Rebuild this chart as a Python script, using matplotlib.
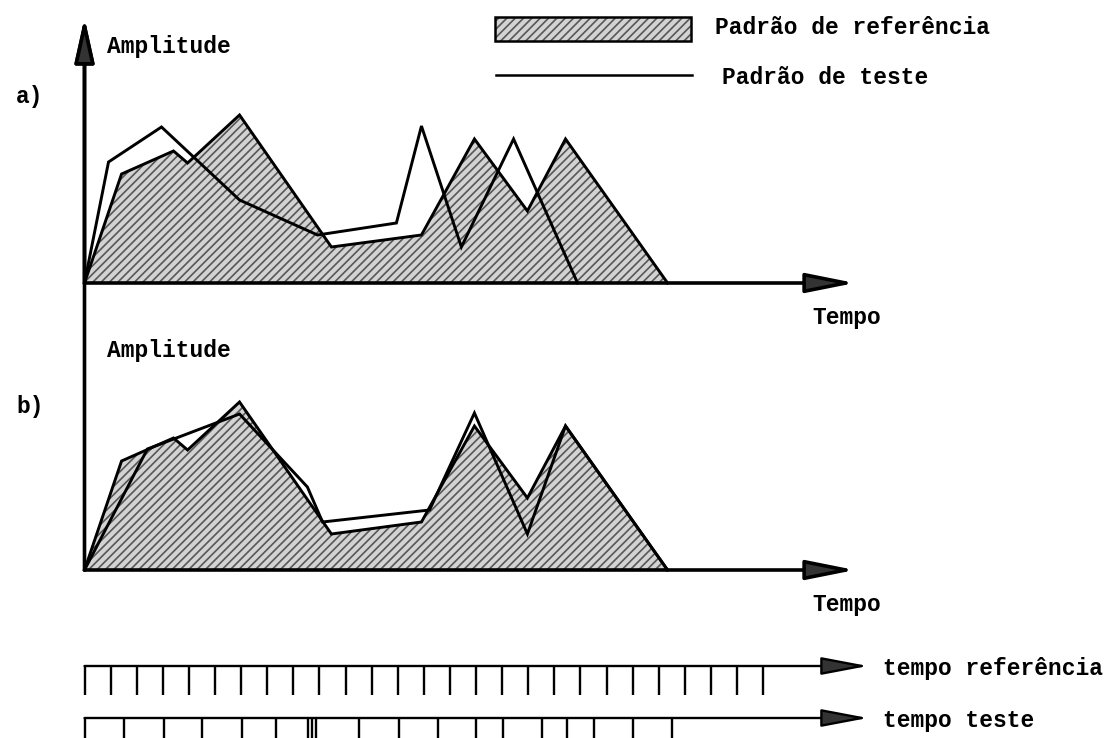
import matplotlib
matplotlib.use("Agg")
import matplotlib.pyplot as plt
from matplotlib.patches import Rectangle
from matplotlib.lines import Line2D

plt.rcParams['font.family'] = ['Liberation Mono', 'DejaVu Sans Mono']
plt.rcParams['hatch.linewidth'] = 1.2

# padrao de referencia (tempo em frames, amplitude arbitraria)
tempo_ref = [0, 1.42, 3.41, 3.95, 5.94, 9.46, 12.91, 14.94, 16.97, 18.43, 22.34]
amp_ref = [0, 10.9, 13.2, 12.0, 16.8, 3.6, 4.8, 14.4, 7.2, 14.4, 0]

# padrao de teste: mesmas amplitudes, tempo original (a) e alinhado (b)
amp_teste = [0, 12.1, 15.6, 8.3, 4.8, 6.0, 15.7, 3.6, 14.4, 0]
tempo_teste_a = [0, 0.92, 2.95, 5.94, 8.93, 11.95, 12.91, 14.44, 16.44, 18.89]
tempo_teste_b = [0, 2.41, 5.94, 8.54, 9.12, 13.22, 14.94, 16.97, 18.43, 22.34]

# marcas de tempo nas duas escalas
frames_ref = list(range(27))
frames_teste = [0, 1.53, 3.04, 4.51, 6.05, 7.35, 8.57, 8.72, 8.86, 10.53,
                12.05, 13.55, 15.01, 16.04, 17.54, 18.49, 19.53, 21.02, 22.52]

W, H = 1110, 738
ox, sx, sy = 84.5, 26.1, 10.0   # origem em px, px por frame, px por unidade

fig = plt.figure(figsize=(W / 100, H / 100), dpi=100)
fig.patch.set_facecolor('white')

FILL = '#d3d3d3'
HATCH = '#575757'
HEAD = '#333333'


def caixa(x0, y0, x1, y1):
    return [x0 / W, 1 - y1 / H, (x1 - x0) / W, (y1 - y0) / H]


def texto(x, y, s, **kw):
    fig.text(x / W, 1 - y / H, s, fontsize=16.5, fontweight='bold',
             va='center', ha='left', **kw)


def seta(ax, xy, xytext, hl, hw, lw):
    ax.annotate('', xy=xy, xytext=xytext,
                arrowprops=dict(arrowstyle=f'-|>,head_length={hl},head_width={hw}',
                                lw=lw, color='black', fc=HEAD,
                                mutation_scale=10, shrinkA=0, shrinkB=0),
                annotation_clip=False)


def painel(base, tempo_teste):
    ax = fig.add_axes(caixa(60, base - 285, 880, base + 20))
    ax.set_xlim((60 - ox) / sx, (880 - ox) / sx)
    ax.set_ylim(-20 / sy, 285 / sy)
    ax.axis('off')
    ax.patch.set_visible(False)

    ax.fill_between(tempo_ref, amp_ref, 0, facecolor=FILL, edgecolor=HATCH,
                    hatch='////', linewidth=0, zorder=1)
    ax.plot(tempo_ref, amp_ref, color='black', lw=2.1, zorder=2,
            solid_joinstyle='miter')
    ax.plot(tempo_teste, amp_teste, color='black', lw=2.1, zorder=3,
            solid_joinstyle='miter')

    # eixos com setas
    seta(ax, (0, (base - 18) / sy), (0, 0), 2.7, 0.6, 2.6)
    seta(ax, ((855 - ox) / sx, 0), (0, 0), 3.0, 0.6, 2.6)
    return ax


painel(283, tempo_teste_a)
painel(570, tempo_teste_b)

texto(107, 47, 'Amplitude')
texto(16, 97, 'a)')
texto(812, 317, 'Tempo')
texto(107, 350, 'Amplitude')
texto(16, 407, 'b)')
texto(812, 605, 'Tempo')

# legenda
fig.add_artist(Rectangle((495 / W, 1 - 41 / H), 196 / W, 24 / H,
                         transform=fig.transFigure, facecolor=FILL,
                         edgecolor=HATCH, hatch='////', linewidth=0))
fig.add_artist(Rectangle((495 / W, 1 - 41 / H), 196 / W, 24 / H,
                         transform=fig.transFigure, fill=False,
                         edgecolor='black', linewidth=1.8))
fig.add_artist(Line2D([496 / W, 692 / W], [1 - 75 / H] * 2,
                      transform=fig.transFigure, color='black', lw=1.8))
texto(715, 28, 'Padrão de referência')
texto(722, 78, 'Padrão de teste')

# escalas de tempo em baixo
axt = fig.add_axes(caixa(60, 640, 880, 738))
axt.set_xlim((60 - ox) / sx, (880 - ox) / sx)
axt.set_ylim(0, 98)
axt.axis('off')
axt.patch.set_visible(False)

linhas = [(738 - 666, frames_ref, 'tempo referência', 669),
          (738 - 718, frames_teste, 'tempo teste', 720)]
for y, frames, rotulo, ytxt in linhas:
    axt.vlines(frames, y - 29, y, color='black', lw=1.7)
    seta(axt, ((868 - ox) / sx, y), (0, y), 2.9, 0.55, 1.7)
    texto(883, ytxt, rotulo)

fig.savefig('out.png', dpi=100, facecolor='white')
